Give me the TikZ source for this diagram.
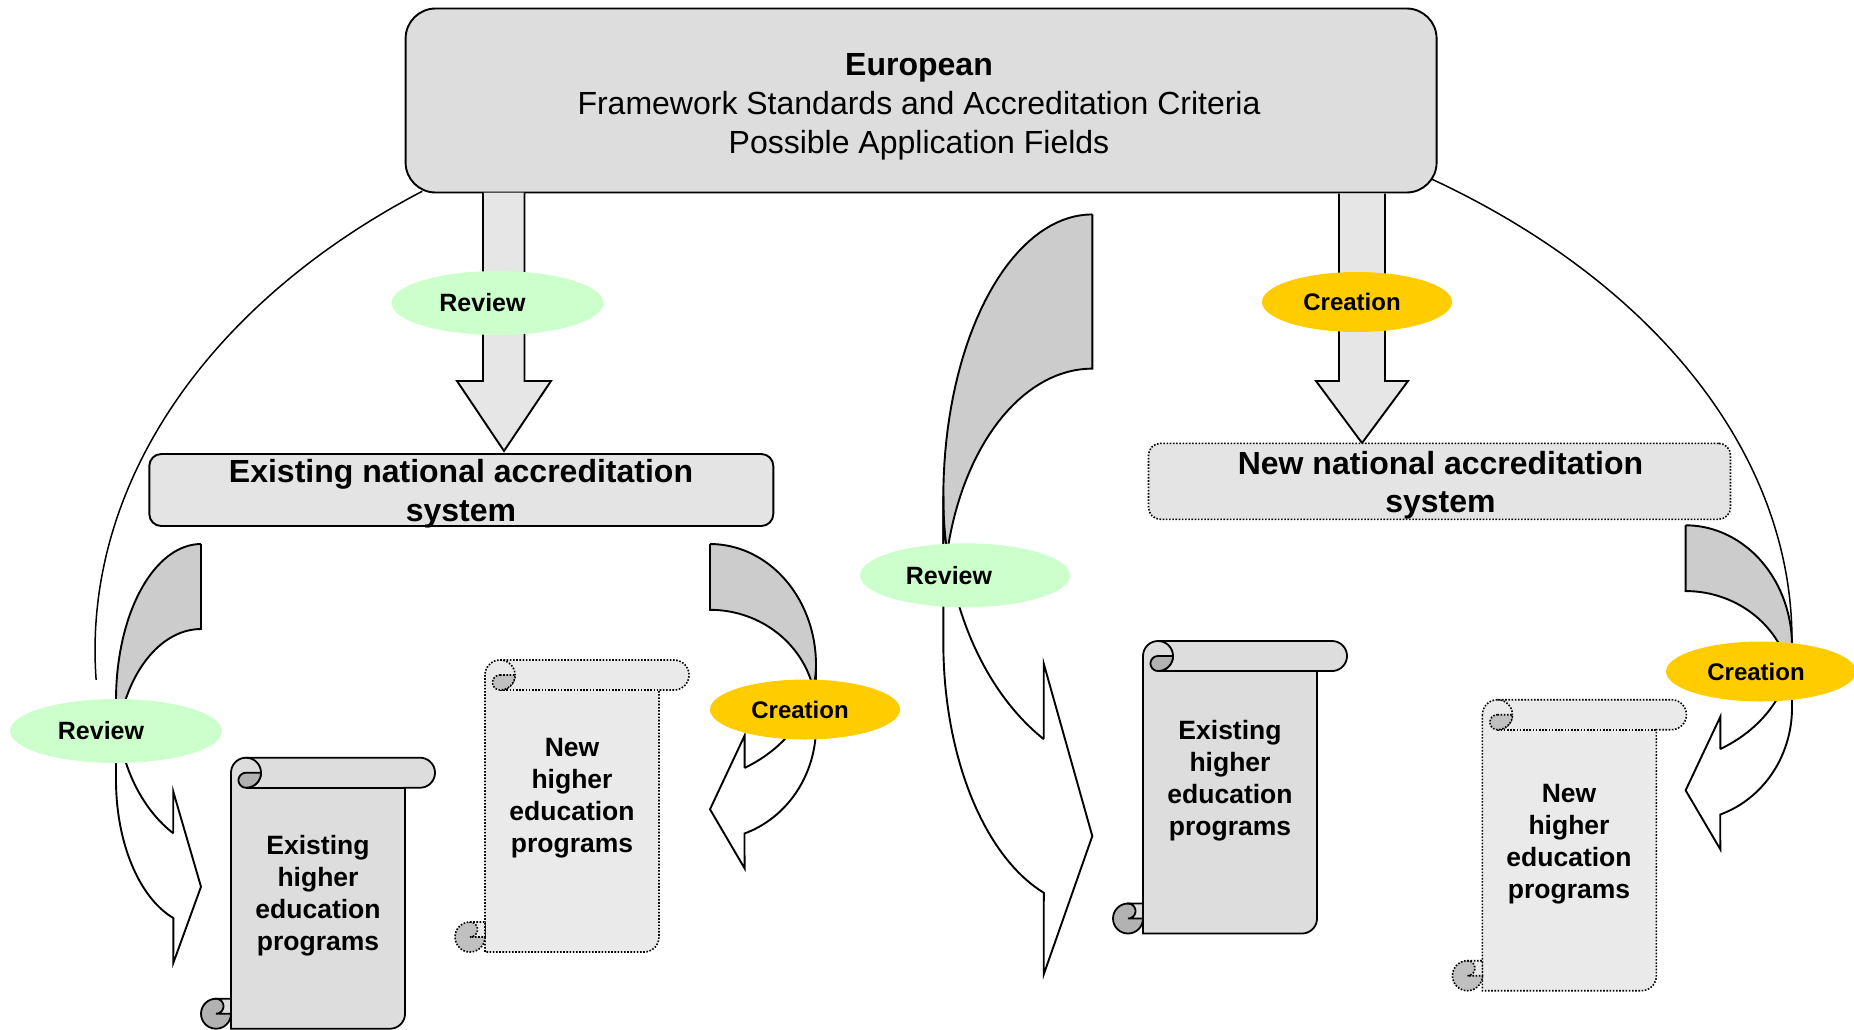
\documentclass[tikz,border=0pt]{standalone}
\usepackage{fontspec}
\setmainfont{Liberation Sans}
\usetikzlibrary{shapes.geometric}
\definecolor{topfill}{HTML}{DDDDDD}
\definecolor{natfill}{HTML}{E4E4E4}
\definecolor{arrfill}{HTML}{E6E6E6}
\definecolor{backgray}{HTML}{CCCCCC}
\definecolor{revgreen}{HTML}{CCFFCC}
\definecolor{creyellow}{HTML}{FFCC00}
\definecolor{exfill}{HTML}{DDDDDD}
\definecolor{excurl}{HTML}{B2B2B2}
\definecolor{newfill}{HTML}{EAEAEA}
\definecolor{newcurl}{HTML}{C0C0C0}

\tikzset{
  ln/.style={line width=1.9pt},
  arcln/.style={line width=1.5pt},
  dotln/.style={line width=1.6pt, dash pattern=on 1.6pt off 1.6pt},
  exbody/.style={fill=exfill, draw=black, line width=1.8pt},
  excurlst/.style={fill=excurl, draw=black, line width=1.8pt},
  newbody/.style={fill=newfill, draw=black, dotln},
  newcurlst/.style={fill=newcurl, draw=black, dotln},
  revst/.style={ellipse, fill=revgreen, inner sep=0pt, minimum width=212pt, minimum height=64pt},
  crest/.style={ellipse, fill=creyellow, inner sep=0pt, minimum width=190pt, minimum height=60pt},
  revtxt/.style={font=\bfseries\fontsize{25}{30}\selectfont, inner sep=0pt},
  cretxt/.style={font=\bfseries\fontsize{24}{29}\selectfont, inner sep=0pt},
  scrolltxt/.style={font=\bfseries\fontsize{26.5}{32}\selectfont, align=center, inner sep=0pt},
  nattxt/.style={font=\bfseries\fontsize{32}{38.5}\selectfont, align=center, inner sep=0pt},
}

% curved arrow in unit coordinates (u to the right, v downward)
\newcommand{\myCurvArrow}{%
  \filldraw[fill=backgray, ln, line join=miter]
    (1,0) -- (1,0.2029)
    -- plot[domain=270:180,samples=40] ({1+cos(\x)},{0.5155+0.3126*sin(\x)})
    -- (0,0.3723)
    -- plot[domain=180:270,samples=40] ({1+cos(\x)},{0.3723+0.3723*sin(\x)})
    -- cycle;
  \filldraw[fill=white, ln, line join=miter]
    (0,0.3723) -- (0,0.5632)
    -- plot[domain=180:109,samples=40] ({1+cos(\x)},{0.5632+0.3484*sin(\x)})
    -- (0.674,1) -- (1,0.818) -- (0.674,0.591) -- (0.674,0.6905)
    -- plot[domain=119.8:180,samples=40] ({1.341+1.341*cos(\x)},{0.3723+0.3668*sin(\x)})
    -- cycle;
}

% scroll: #1 left, #2 top, #3 width, #4 height, #5 body style, #6 curl style
\newcommand{\myScroll}[6]{%
\begin{scope}[shift={(#1,#2)}]
  \path[#5] (30,15) -- (30,#4) -- ({#3-45},#4)
    -- plot[domain=90:0,samples=10] ({#3-45+15*cos(\x)},{#4-15+15*sin(\x)})
    -- ({#3-30},30) -- ({#3-15},30)
    -- plot[domain=90:-90,samples=20] ({#3-15+15*cos(\x)},{15+15*sin(\x)})
    -- (45,0)
    -- plot[domain=-90:-180,samples=10] ({45+15*cos(\x)},{15+15*sin(\x)})
    -- cycle;
  \draw[#5, fill=none] (45,30) -- ({#3-30},30);
  \draw[#5, fill=none] plot[domain=-90:90,samples=20] ({45+15*cos(\x)},{15+15*sin(\x)});
  \path[#6] (45,15) -- (60,15)
    -- plot[domain=0:90,samples=10] ({45+15*cos(\x)},{15+15*sin(\x)})
    -- plot[domain=90:270,samples=12] ({45+7.5*cos(\x)},{22.5+7.5*sin(\x)})
    -- cycle;
  \path[#6] (15,{#4-15}) circle[radius=15];
  \path[#5] (15,{#4-30}) -- (30,{#4-30}) -- (30,{#4-15}) -- (15,{#4-15})
    -- plot[domain=90:-90,samples=12] ({15+7.5*cos(\x)},{#4-22.5+7.5*sin(\x)})
    -- cycle;
\end{scope}}

\begin{document}
\begin{tikzpicture}[x=1pt, y=-1pt]
\useasboundingbox (0,0) rectangle (1854,1029);

% big arcs
\draw[arcln] plot[domain=233.6:177, samples=90] ({900+805*cos(\x)},{650+570*sin(\x)});
\draw[arcln] plot[domain=-55.3:3, samples=90] ({950+842*cos(\x)},{640+562*sin(\x)});

% top box
\node[draw, ln, fill=topfill, rounded corners=30pt, minimum width=1031pt, minimum height=184pt] (top) at (921.1,100.5) {};
\node[align=center, font=\fontsize{32}{39}\selectfont, inner sep=0pt] (toptxt) at (919,107) {\textbf{European}\\Framework Standards and Accreditation Criteria\\Possible Application Fields};

% vertical block arrows
\filldraw[fill=arrfill, ln, line join=miter] (483,192.7) -- (483,381) -- (457,381) -- (504,451) -- (551,381) -- (524.5,381) -- (524.5,192.7);
\filldraw[fill=arrfill, ln, line join=miter] (1339,193.5) -- (1339,381) -- (1316,381) -- (1362,443) -- (1408,381) -- (1385,381) -- (1385,193.5);

\node[revst] (rev1) at (497.5,303) {};
\node[revtxt] (rev1t) at ([xshift=-15pt]rev1.center) {Review};
\node[crest] (cre1) at (1357,302) {};
\node[cretxt] (cre1t) at ([xshift=-5pt]cre1.center) {Creation};

% national systems
\node[draw, ln, fill=natfill, rounded corners=12pt, minimum width=624pt, minimum height=72pt] (exnat) at (461.3,490) {};
\node[nattxt] (exnatt) at (461,493.5) {Existing national accreditation\\system};
\node[draw, dotln, fill=natfill, rounded corners=12pt, minimum width=582pt, minimum height=76pt] (newnat) at (1439.5,481.3) {};
\node[nattxt] (newnatt) at (1440.5,485) {New national accreditation\\system};

% curved arrows
\begin{scope}[shift={(116,544)}, xscale=85, yscale=419] \myCurvArrow \end{scope}
\begin{scope}[shift={(816,544)}, xscale=-106, yscale=324.3] \myCurvArrow \end{scope}
\begin{scope}[shift={(943.3,214.4)}, xscale=149, yscale=760] \myCurvArrow \end{scope}
\begin{scope}[shift={(1792,525.3)}, xscale=-106.4, yscale=324] \myCurvArrow \end{scope}

\node[revst] (revA) at (116,731) {};
\node[revtxt] (revAt) at ([xshift=-15pt]revA.center) {Review};
\node[crest] (creB) at (805,709.5) {};
\node[cretxt] (creBt) at ([xshift=-5pt]creB.center) {Creation};
\node[revst, minimum width=210pt] (revC) at (965,575.3) {};
\node[revtxt] (revCt) at ([xshift=-16pt]revC.center) {Review};
\node[crest] (creD) at (1761,671.5) {};
\node[cretxt] (creDt) at ([xshift=-5pt]creD.center) {Creation};

% scrolls
\myScroll{201}{757.7}{234}{271}{exbody}{excurlst}
\node[scrolltxt] (s1) at (318,896) {Existing\\higher\\education\\programs};
\myScroll{455}{660}{234}{292}{newbody}{newcurlst}
\node[scrolltxt] (s2) at (572,798) {New\\higher\\education\\programs};
\myScroll{1113}{641}{234}{292.5}{exbody}{excurlst}
\node[scrolltxt] (s3) at (1230,780.5) {Existing\\higher\\education\\programs};
\myScroll{1452.4}{699.7}{234}{291}{newbody}{newcurlst}
\node[scrolltxt] (s4) at (1569,844.6) {New\\higher\\education\\programs};

\end{tikzpicture}
\end{document}
